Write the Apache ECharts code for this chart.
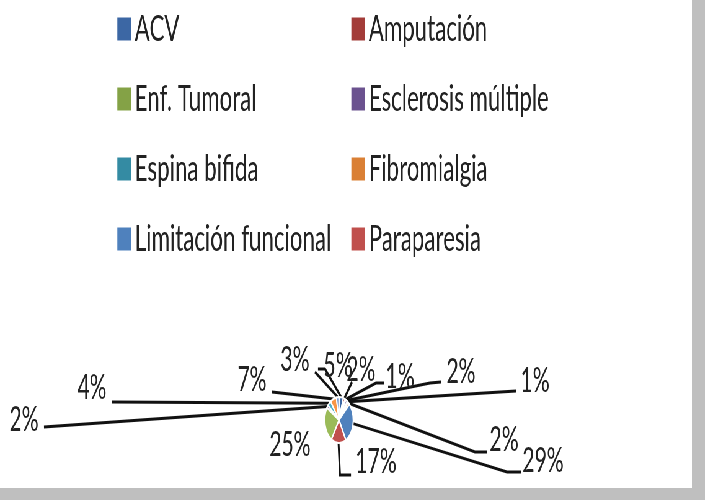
<!DOCTYPE html>
<html lang="es">
<head>
    <meta charset="UTF-8">
    <title>Tipos de discapacidad</title>
    <style>
        body { margin: 0; background: #bfbfbf; overflow: hidden; }
        #main { background: #fff; transform-origin: 0 0; }
    </style>
</head>
<body>

<div id="main"></div>

<script src="https://cdn.jsdelivr.net/npm/echarts@6/dist/echarts.min.js"></script>
<script type="text/javascript">
    // datos del grafico
    var names = ['ACV', 'Amputación', 'Enf. Tumoral', 'Esclerosis múltiple', 'Espina bifida', 'Fibromialgia',
        'Limitación funcional', 'Paraparesia', 'Poliomielitis', 'Sordera', 'Tetraparesia', 'Traumatismo', 'Visual'];
    var values = [5, 2, 1, 2, 1, 2, 29, 17, 25, 2, 4, 7, 3];
    var colors = ['#3c67a4', '#a33c39', '#84a246', '#6b528f', '#348ba3', '#da8035',
        '#4f81bd', '#c0504d', '#9bbb59', '#8064a2', '#4bacc6', '#f79646', '#7f9fcf'];
    var legendLeft = ['ACV', 'Enf. Tumoral', 'Espina bifida', 'Limitación funcional'];
    var legendRight = ['Amputación', 'Esclerosis múltiple', 'Fibromialgia', 'Paraparesia'];

    // la imagen original esta comprimida en horizontal
    var sx = 0.62;
    // donde colocar cada etiqueta (px finales) y el final de su linea guia
    var labelAt = [[338, 366], [361, 370], [400, 377], [461, 372], [535, 381], [504, 440], [543, 461],
        [376, 462], [290, 445], [24, 420], [92, 388], [252, 380], [295, 360]];
    var lineEnd = [
        [[325, 369], [318, 369]],
        [[352, 382], [352, 382]],
        [[376, 383], [384, 383]],
        [[430, 383], [441, 382]],
        [[516, 391], [516, 391]],
        [[475, 452], [487, 452]],
        [[507, 472], [521, 472]],
        [[340, 475], [351, 475]],
        null,
        [[44, 427], [44, 427]],
        [[112, 402], [112, 402]],
        [[272, 392], [272, 392]],
        [[315, 372], [315, 372]]
    ];

    var dom = document.getElementById('main');
    dom.style.width = Math.round(692 / sx) + 'px';
    dom.style.height = '488px';
    dom.style.transform = 'scaleX(' + sx + ')';

    var chart = echarts.init(dom);

    var pieData = values.map(function (v, i) {
        var item = {value: v, name: names[i], itemStyle: {color: colors[i]}};
        if (!lineEnd[i]) item.labelLine = {show: false};
        return item;
    });

    var legendText = {fontFamily: 'Lato', fontSize: 36, color: '#222', lineHeight: 36};

    chart.setOption({
        animation: false,
        backgroundColor: '#fff',
        legend: [
            {
                orient: 'vertical', left: 113 / sx, top: 6, itemGap: 34,
                itemWidth: 24, itemHeight: 25, icon: 'rect',
                textStyle: legendText, data: legendLeft
            },
            {
                orient: 'vertical', left: 347 / sx, top: 6, itemGap: 34,
                itemWidth: 24, itemHeight: 25, icon: 'rect',
                textStyle: legendText, data: legendRight
            }
        ],
        series: [{
            type: 'pie',
            center: [339 / sx, 420],
            radius: 23,
            itemStyle: {borderColor: '#fff', borderWidth: 2},
            label: {
                show: true,
                position: 'outside',
                formatter: '{d}%',
                fontFamily: 'Lato',
                fontSize: 34,
                color: '#222'
            },
            labelLine: {show: true, lineStyle: {color: '#111', width: 3}},
            labelLayout: function (p) {
                var i = p.dataIndex;
                var res = {x: labelAt[i][0] / sx, y: labelAt[i][1], align: 'center', verticalAlign: 'middle'};
                if (lineEnd[i] && p.labelLinePoints) {
                    res.labelLinePoints = [p.labelLinePoints[0]].concat(lineEnd[i].map(function (q) {
                        return [q[0] / sx, q[1]];
                    }));
                }
                return res;
            },
            data: pieData
        }]
    });
</script>
</body>
</html>
